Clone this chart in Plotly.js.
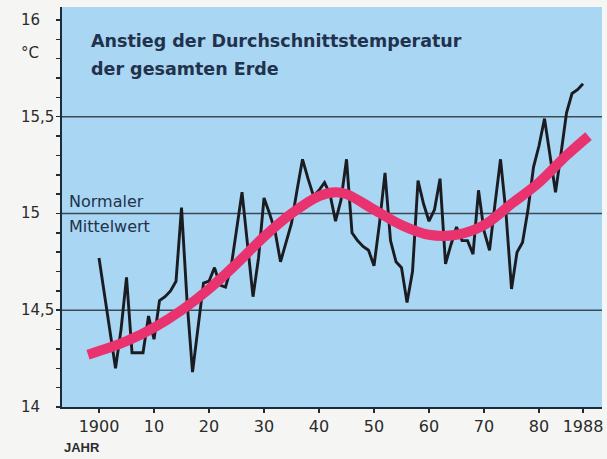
<!DOCTYPE html>
<html>
<head>
<meta charset="utf-8">
<script src="https://cdn.plot.ly/plotly-3.0.1.min.js"></script>
<style>
  html, body { margin: 0; padding: 0; background: #f5f5f3; }
  #chart { width: 607px; height: 459px; }
</style>
</head>
<body>
<div id="chart"></div>
<script>
// ---- Data ----
const years = [
  1900,1901,1902,1903,1904,1905,1906,1907,1908,1909,
  1910,1911,1912,1913,1914,1915,1916,1917,1918,1919,
  1920,1921,1922,1923,1924,1925,1926,1927,1928,1929,
  1930,1931,1932,1933,1934,1935,1936,1937,1938,1939,
  1940,1941,1942,1943,1944,1945,1946,1947,1948,1949,
  1950,1951,1952,1953,1954,1955,1956,1957,1958,1959,
  1960,1961,1962,1963,1964,1965,1966,1967,1968,1969,
  1970,1971,1972,1973,1974,1975,1976,1977,1978,1979,
  1980,1981,1982,1983,1984,1985,1986,1987,1988
];
const annualTemp = [
  14.77,14.58,14.41,14.20,14.40,14.67,14.28,14.28,14.28,14.47,
  14.35,14.55,14.57,14.60,14.65,15.03,14.55,14.18,14.40,14.64,
  14.65,14.72,14.63,14.62,14.72,14.91,15.11,14.84,14.57,14.77,
  15.08,15.00,14.91,14.75,14.85,14.95,15.12,15.28,15.18,15.09,
  15.12,15.16,15.10,14.96,15.07,15.28,14.90,14.86,14.83,14.81,
  14.73,14.95,15.21,14.86,14.75,14.72,14.54,14.70,15.17,15.05,
  14.96,15.02,15.18,14.74,14.84,14.93,14.86,14.86,14.79,15.12,
  14.91,14.81,15.05,15.28,15.00,14.61,14.80,14.85,15.02,15.24,
  15.35,15.49,15.30,15.11,15.31,15.52,15.62,15.64,15.67
];
const trendYears = [1898,1905,1910,1915,1920,1925,1930,1935,1940,1943,1945,1950,1955,1960,1965,1970,1975,1980,1985,1989];
const trendTemp  = [14.27,14.34,14.41,14.50,14.61,14.74,14.88,15.00,15.09,15.11,15.10,15.02,14.94,14.89,14.89,14.94,15.05,15.16,15.30,15.40];

const xTickVals = [1900,1910,1920,1930,1940,1950,1960,1970,1980,1988];
const xTickText = ['1900','10','20','30','40','50','60','70','80','1988'];
const yLabelVals = [16,15.5,15,14.5,14];
const yLabelText = ['16','15,5','15','14,5','14'];
const gridValues = [14.5,15,15.5];

const titleLines = ['Anstieg der Durchschnittstemperatur','der gesamten Erde'];
const refLines = ['Normaler','Mittelwert'];

// ---- Styles ----
const navy = '#22314c';
const fontMain = 'DejaVu Sans, Liberation Sans, Arial, sans-serif';

const traces = [
  {
    x: years, y: annualTemp, type: 'scatter', mode: 'lines',
    line: {color: '#1b1c22', width: 2.9},
    hoverinfo: 'skip', showlegend: false
  },
  {
    x: trendYears, y: trendTemp, type: 'scatter', mode: 'lines',
    line: {color: '#e8336f', width: 10, shape: 'spline', smoothing: 1.0},
    hoverinfo: 'skip', showlegend: false
  }
];

const shapes = gridValues.map(v => ({
  type: 'line', xref: 'paper', x0: 0, x1: 1, yref: 'y', y0: v, y1: v,
  line: {color: '#3c4a55', width: 1.5}, layer: 'below'
}));

const annotations = [];
yLabelVals.forEach((v, i) => {
  annotations.push({
    xref: 'paper', x: -0.08, xanchor: 'left', yref: 'y', y: v, yanchor: 'middle',
    text: yLabelText[i], showarrow: false,
    font: {family: fontMain, size: 15, color: '#2b2b2b'}
  });
});
annotations.push({
  xref: 'paper', x: -0.08, xanchor: 'left', yref: 'paper', y: 0.885, yanchor: 'middle',
  text: '°C', showarrow: false,
  font: {family: fontMain, size: 15, color: '#2b2b2b'}
});
annotations.push({
  xref: 'paper', x: 0.050, xanchor: 'left', yref: 'paper', y: 0.915, yanchor: 'middle',
  text: titleLines[0], showarrow: false,
  font: {family: fontMain, size: 17.5, color: navy, weight: 'bold'}
});
annotations.push({
  xref: 'paper', x: 0.050, xanchor: 'left', yref: 'paper', y: 0.845, yanchor: 'middle',
  text: titleLines[1], showarrow: false,
  font: {family: fontMain, size: 17.5, color: navy, weight: 'bold'}
});
annotations.push({
  xref: 'paper', x: 0.010, xanchor: 'left', yref: 'paper', y: 0.515, yanchor: 'middle',
  text: refLines[0], showarrow: false,
  font: {family: fontMain, size: 16, color: navy}
});
annotations.push({
  xref: 'paper', x: 0.010, xanchor: 'left', yref: 'paper', y: 0.4525, yanchor: 'middle',
  text: refLines[1], showarrow: false,
  font: {family: fontMain, size: 16, color: navy}
});
annotations.push({
  xref: 'paper', x: 0.0, xanchor: 'left', yref: 'paper', y: -0.101, yanchor: 'middle',
  text: 'JAHR', showarrow: false,
  font: {family: 'Liberation Sans, Arial, sans-serif', size: 13, color: '#2b2b2b', weight: 'bold'}
});

const layout = {
  width: 607, height: 459,
  margin: {l: 62, r: 5, t: 7, b: 52, pad: 0},
  paper_bgcolor: '#f5f5f3',
  plot_bgcolor: '#a9d6f3',
  showlegend: false,
  xaxis: {
    range: [1893.27, 1991.45],
    tickmode: 'array', tickvals: xTickVals, ticktext: xTickText,
    ticks: 'outside', ticklen: 4, tickwidth: 2, tickcolor: '#1c2b3a',
    showgrid: false, zeroline: false,
    showline: true, linecolor: '#1c2b3a', linewidth: 2,
    ticklabelstandoff: 0,
    tickfont: {family: fontMain, size: 16, color: '#2b2b2b'},
    fixedrange: true
  },
  yaxis: {
    range: [14, 16.067],
    tick0: 14, dtick: 0.1,
    ticks: 'outside', ticklen: 4, tickwidth: 1.5, tickcolor: '#1c2b3a',
    showticklabels: false,
    showgrid: false, zeroline: false,
    showline: true, linecolor: '#1c2b3a', linewidth: 2,
    fixedrange: true
  },
  shapes: shapes,
  annotations: annotations
};

Plotly.newPlot('chart', traces, layout, {displayModeBar: false, staticPlot: true});
</script>
</body>
</html>
